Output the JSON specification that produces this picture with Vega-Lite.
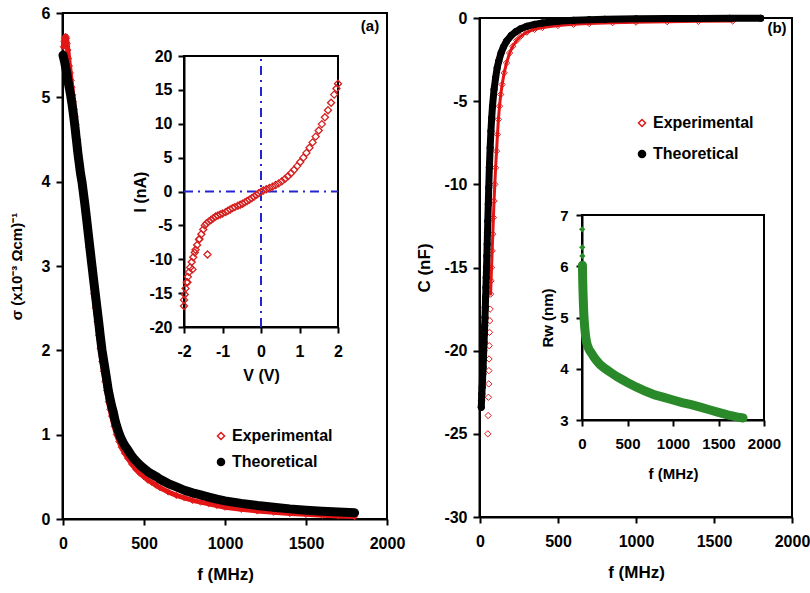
{
"$schema":"https://vega.github.io/schema/vega-lite/v6.json",
"width":810,"height":593,"autosize":{"type":"none"},"padding":0,
"background":"white",
"config":{"view":{"stroke":null},"font":"Liberation Sans",
 "axis":{"grid":false,"labelFont":"Liberation Sans","labelFontWeight":"bold","labelColor":"black","labelFontSize":16,"domainColor":"black","domainWidth":2,"tickColor":"black","tickWidth":2,"tickSize":6,"titleFont":"Liberation Sans","titleFontWeight":"bold","titleColor":"black","titleFontSize":16,"labelFlush":false,"labelOverlap":false,"labelBound":false,"labelExpr":"datum.value + ''"}},
"datasets":{
 "sigma":[
  {"f":2,"s":5.6,"series":"Experimental"},{"f":6,"s":5.66,"series":"Experimental"},{"f":10,"s":5.7,"series":"Experimental"},{"f":14,"s":5.72,"series":"Experimental"},{"f":18,"s":5.72,"series":"Experimental"},{"f":22,"s":5.7,"series":"Experimental"},{"f":26,"s":5.64,"series":"Experimental"},{"f":30,"s":5.56,"series":"Experimental"},{"f":35,"s":5.46,"series":"Experimental"},{"f":40,"s":5.37,"series":"Experimental"},{"f":45,"s":5.29,"series":"Experimental"},{"f":50,"s":5.2,"series":"Experimental"},{"f":55,"s":5.12,"series":"Experimental"},{"f":60,"s":5.03,"series":"Experimental"},{"f":65,"s":4.95,"series":"Experimental"},{"f":70,"s":4.86,"series":"Experimental"},{"f":75,"s":4.77,"series":"Experimental"},{"f":80,"s":4.68,"series":"Experimental"},{"f":85,"s":4.59,"series":"Experimental"},{"f":90,"s":4.5,"series":"Experimental"},{"f":95,"s":4.4,"series":"Experimental"},{"f":100,"s":4.31,"series":"Experimental"},{"f":110,"s":4.15,"series":"Experimental"},{"f":120,"s":3.99,"series":"Experimental"},{"f":130,"s":3.82,"series":"Experimental"},{"f":140,"s":3.64,"series":"Experimental"},{"f":150,"s":3.45,"series":"Experimental"},{"f":160,"s":3.22,"series":"Experimental"},{"f":170,"s":3.05,"series":"Experimental"},{"f":180,"s":2.85,"series":"Experimental"},{"f":190,"s":2.67,"series":"Experimental"},{"f":200,"s":2.5,"series":"Experimental"},{"f":210,"s":2.34,"series":"Experimental"},{"f":220,"s":2.18,"series":"Experimental"},{"f":230,"s":2.02,"series":"Experimental"},{"f":240,"s":1.87,"series":"Experimental"},{"f":250,"s":1.75,"series":"Experimental"},{"f":260,"s":1.63,"series":"Experimental"},{"f":270,"s":1.52,"series":"Experimental"},{"f":280,"s":1.39,"series":"Experimental"},{"f":290,"s":1.3,"series":"Experimental"},{"f":300,"s":1.22,"series":"Experimental"},{"f":315,"s":1.1,"series":"Experimental"},{"f":330,"s":1.0,"series":"Experimental"},{"f":345,"s":0.92,"series":"Experimental"},{"f":360,"s":0.85,"series":"Experimental"},{"f":380,"s":0.78,"series":"Experimental"},{"f":400,"s":0.72,"series":"Experimental"},{"f":425,"s":0.65,"series":"Experimental"},{"f":450,"s":0.59,"series":"Experimental"},{"f":475,"s":0.54,"series":"Experimental"},{"f":500,"s":0.5,"series":"Experimental"},{"f":525,"s":0.46,"series":"Experimental"},{"f":550,"s":0.43,"series":"Experimental"},{"f":575,"s":0.4,"series":"Experimental"},{"f":600,"s":0.37,"series":"Experimental"},{"f":650,"s":0.32,"series":"Experimental"},{"f":700,"s":0.28,"series":"Experimental"},{"f":750,"s":0.25,"series":"Experimental"},{"f":800,"s":0.22,"series":"Experimental"},{"f":850,"s":0.2,"series":"Experimental"},{"f":900,"s":0.18,"series":"Experimental"},{"f":950,"s":0.16,"series":"Experimental"},{"f":1000,"s":0.14,"series":"Experimental"},{"f":1100,"s":0.115,"series":"Experimental"},{"f":1200,"s":0.095,"series":"Experimental"},{"f":1300,"s":0.08,"series":"Experimental"},{"f":1400,"s":0.065,"series":"Experimental"},{"f":1500,"s":0.055,"series":"Experimental"},{"f":1600,"s":0.045,"series":"Experimental"},{"f":1700,"s":0.037,"series":"Experimental"},{"f":1800,"s":0.03,"series":"Experimental"},
  {"f":0,"s":5.5,"series":"Theoretical"},{"f":5,"s":5.46,"series":"Theoretical"},{"f":10,"s":5.42,"series":"Theoretical"},{"f":15,"s":5.37,"series":"Theoretical"},{"f":20,"s":5.32,"series":"Theoretical"},{"f":25,"s":5.27,"series":"Theoretical"},{"f":30,"s":5.21,"series":"Theoretical"},{"f":35,"s":5.15,"series":"Theoretical"},{"f":40,"s":5.1,"series":"Theoretical"},{"f":45,"s":5.05,"series":"Theoretical"},{"f":50,"s":4.99,"series":"Theoretical"},{"f":55,"s":4.93,"series":"Theoretical"},{"f":60,"s":4.86,"series":"Theoretical"},{"f":65,"s":4.79,"series":"Theoretical"},{"f":70,"s":4.71,"series":"Theoretical"},{"f":75,"s":4.63,"series":"Theoretical"},{"f":80,"s":4.54,"series":"Theoretical"},{"f":85,"s":4.46,"series":"Theoretical"},{"f":90,"s":4.37,"series":"Theoretical"},{"f":95,"s":4.29,"series":"Theoretical"},{"f":100,"s":4.22,"series":"Theoretical"},{"f":108,"s":4.1,"series":"Theoretical"},{"f":117,"s":4.0,"series":"Theoretical"},{"f":125,"s":3.88,"series":"Theoretical"},{"f":135,"s":3.73,"series":"Theoretical"},{"f":145,"s":3.57,"series":"Theoretical"},{"f":155,"s":3.4,"series":"Theoretical"},{"f":165,"s":3.23,"series":"Theoretical"},{"f":179,"s":3.0,"series":"Theoretical"},{"f":190,"s":2.82,"series":"Theoretical"},{"f":200,"s":2.66,"series":"Theoretical"},{"f":210,"s":2.5,"series":"Theoretical"},{"f":220,"s":2.34,"series":"Theoretical"},{"f":230,"s":2.17,"series":"Theoretical"},{"f":241,"s":2.0,"series":"Theoretical"},{"f":250,"s":1.89,"series":"Theoretical"},{"f":260,"s":1.77,"series":"Theoretical"},{"f":270,"s":1.65,"series":"Theoretical"},{"f":280,"s":1.52,"series":"Theoretical"},{"f":290,"s":1.43,"series":"Theoretical"},{"f":300,"s":1.34,"series":"Theoretical"},{"f":310,"s":1.27,"series":"Theoretical"},{"f":320,"s":1.18,"series":"Theoretical"},{"f":330,"s":1.11,"series":"Theoretical"},{"f":340,"s":1.05,"series":"Theoretical"},{"f":355,"s":0.97,"series":"Theoretical"},{"f":370,"s":0.91,"series":"Theoretical"},{"f":385,"s":0.86,"series":"Theoretical"},{"f":400,"s":0.82,"series":"Theoretical"},{"f":420,"s":0.76,"series":"Theoretical"},{"f":440,"s":0.71,"series":"Theoretical"},{"f":460,"s":0.67,"series":"Theoretical"},{"f":480,"s":0.63,"series":"Theoretical"},{"f":500,"s":0.6,"series":"Theoretical"},{"f":525,"s":0.56,"series":"Theoretical"},{"f":550,"s":0.53,"series":"Theoretical"},{"f":578,"s":0.5,"series":"Theoretical"},{"f":600,"s":0.47,"series":"Theoretical"},{"f":650,"s":0.42,"series":"Theoretical"},{"f":700,"s":0.38,"series":"Theoretical"},{"f":750,"s":0.34,"series":"Theoretical"},{"f":800,"s":0.31,"series":"Theoretical"},{"f":850,"s":0.285,"series":"Theoretical"},{"f":900,"s":0.26,"series":"Theoretical"},{"f":950,"s":0.235,"series":"Theoretical"},{"f":1000,"s":0.215,"series":"Theoretical"},{"f":1100,"s":0.185,"series":"Theoretical"},{"f":1200,"s":0.16,"series":"Theoretical"},{"f":1300,"s":0.14,"series":"Theoretical"},{"f":1400,"s":0.12,"series":"Theoretical"},{"f":1500,"s":0.105,"series":"Theoretical"},{"f":1600,"s":0.092,"series":"Theoretical"},{"f":1700,"s":0.082,"series":"Theoretical"},{"f":1800,"s":0.074,"series":"Theoretical"}
 ],
 "iv":[
  {"V":-2.0,"I":-16.9},{"V":-2.0,"I":-16.0},{"V":-1.98,"I":-15.2},{"V":-1.96,"I":-14.3},{"V":-1.93,"I":-13.4},{"V":-1.91,"I":-13.4},{"V":-1.9,"I":-12.6},{"V":-1.87,"I":-11.9},{"V":-1.84,"I":-11.2},{"V":-1.78,"I":-11.5},{"V":-1.8,"I":-10.4},{"V":-1.76,"I":-9.7},{"V":-1.72,"I":-9.0},{"V":-1.7,"I":-8.6},{"V":-1.66,"I":-7.9},{"V":-1.61,"I":-7.1},{"V":-1.6,"I":-7.0},{"V":-1.55,"I":-6.3},{"V":-1.5,"I":-5.6},{"V":-1.39,"I":-9.3},{"V":-1.46,"I":-5.0},{"V":-1.42,"I":-4.7},{"V":-1.36,"I":-4.45},{"V":-1.3,"I":-4.2},{"V":-1.24,"I":-3.95},{"V":-1.18,"I":-3.7},{"V":-1.12,"I":-3.55},{"V":-1.06,"I":-3.4},{"V":-1.0,"I":-3.25},{"V":-0.92,"I":-3.05},{"V":-0.86,"I":-2.85},{"V":-0.8,"I":-2.65},{"V":-0.74,"I":-2.45},{"V":-0.68,"I":-2.3},{"V":-0.6,"I":-2.1},{"V":-0.54,"I":-1.95},{"V":-0.48,"I":-1.8},{"V":-0.42,"I":-1.6},{"V":-0.36,"I":-1.4},{"V":-0.3,"I":-1.2},{"V":-0.24,"I":-0.98},{"V":-0.18,"I":-0.75},{"V":-0.12,"I":-0.5},{"V":-0.06,"I":-0.25},{"V":0.0,"I":-0.05},{"V":0.06,"I":0.15},{"V":0.14,"I":0.33},{"V":0.22,"I":0.52},{"V":0.3,"I":0.72},{"V":0.38,"I":0.95},{"V":0.46,"I":1.2},{"V":0.54,"I":1.5},{"V":0.62,"I":1.85},{"V":0.7,"I":2.25},{"V":0.78,"I":2.7},{"V":0.86,"I":3.2},{"V":0.94,"I":3.75},{"V":1.02,"I":4.35},{"V":1.1,"I":5.0},{"V":1.18,"I":5.7},{"V":1.26,"I":6.45},{"V":1.34,"I":7.25},{"V":1.42,"I":8.1},{"V":1.5,"I":9.0},{"V":1.58,"I":9.95},{"V":1.66,"I":10.95},{"V":1.74,"I":12.0},{"V":1.82,"I":13.1},{"V":1.9,"I":14.3},{"V":1.96,"I":15.2},{"V":2.0,"I":15.9}
 ],
 "cap":[
  {"f":50,"C":-25.0,"series":"Experimental"},{"f":52,"C":-23.9,"series":"Experimental"},{"f":54,"C":-22.8,"series":"Experimental"},{"f":56,"C":-22.0,"series":"Experimental"},{"f":57,"C":-21.2,"series":"Experimental"},{"f":58,"C":-20.5,"series":"Experimental"},{"f":59,"C":-19.7,"series":"Experimental"},{"f":61,"C":-18.9,"series":"Experimental"},{"f":63,"C":-18.2,"series":"Experimental"},{"f":65,"C":-17.5,"series":"Experimental"},{"f":68,"C":-16.6,"series":"Experimental"},{"f":71,"C":-15.8,"series":"Experimental"},{"f":74,"C":-15.0,"series":"Experimental"},{"f":78,"C":-14.0,"series":"Experimental"},{"f":82,"C":-13.0,"series":"Experimental"},{"f":86,"C":-12.0,"series":"Experimental"},{"f":90,"C":-11.0,"series":"Experimental"},{"f":95,"C":-10.0,"series":"Experimental"},{"f":100,"C":-9.0,"series":"Experimental"},{"f":106,"C":-8.0,"series":"Experimental"},{"f":112,"C":-7.0,"series":"Experimental"},{"f":118,"C":-6.1,"series":"Experimental"},{"f":125,"C":-5.3,"series":"Experimental"},{"f":133,"C":-4.6,"series":"Experimental"},{"f":142,"C":-4.0,"series":"Experimental"},{"f":155,"C":-3.3,"series":"Experimental"},{"f":170,"C":-2.7,"series":"Experimental"},{"f":190,"C":-2.1,"series":"Experimental"},{"f":210,"C":-1.7,"series":"Experimental"},{"f":235,"C":-1.35,"series":"Experimental"},{"f":260,"C":-1.1,"series":"Experimental"},{"f":300,"C":-0.85,"series":"Experimental"},{"f":350,"C":-0.68,"series":"Experimental"},{"f":400,"C":-0.57,"series":"Experimental"},{"f":500,"C":-0.45,"series":"Experimental"},{"f":600,"C":-0.38,"series":"Experimental"},{"f":700,"C":-0.33,"series":"Experimental"},{"f":850,"C":-0.28,"series":"Experimental"},{"f":1000,"C":-0.25,"series":"Experimental"},{"f":1200,"C":-0.22,"series":"Experimental"},{"f":1400,"C":-0.2,"series":"Experimental"},{"f":1620,"C":-0.18,"series":"Experimental"},
  {"f":8,"C":-23.4,"series":"Theoretical"},{"f":10,"C":-23.0,"series":"Theoretical"},{"f":12,"C":-22.6,"series":"Theoretical"},{"f":14,"C":-22.2,"series":"Theoretical"},{"f":16,"C":-21.8,"series":"Theoretical"},{"f":18,"C":-21.4,"series":"Theoretical"},{"f":20,"C":-21.0,"series":"Theoretical"},{"f":22,"C":-20.5,"series":"Theoretical"},{"f":24,"C":-20.0,"series":"Theoretical"},{"f":26,"C":-19.5,"series":"Theoretical"},{"f":28,"C":-19.0,"series":"Theoretical"},{"f":30,"C":-18.5,"series":"Theoretical"},{"f":32,"C":-18.0,"series":"Theoretical"},{"f":34,"C":-17.4,"series":"Theoretical"},{"f":36,"C":-16.8,"series":"Theoretical"},{"f":38,"C":-16.2,"series":"Theoretical"},{"f":40,"C":-15.6,"series":"Theoretical"},{"f":42,"C":-15.0,"series":"Theoretical"},{"f":44,"C":-14.3,"series":"Theoretical"},{"f":46,"C":-13.6,"series":"Theoretical"},{"f":48,"C":-12.9,"series":"Theoretical"},{"f":50,"C":-12.2,"series":"Theoretical"},{"f":53,"C":-11.2,"series":"Theoretical"},{"f":56,"C":-10.2,"series":"Theoretical"},{"f":60,"C":-9.0,"series":"Theoretical"},{"f":65,"C":-7.8,"series":"Theoretical"},{"f":70,"C":-6.8,"series":"Theoretical"},{"f":75,"C":-6.0,"series":"Theoretical"},{"f":80,"C":-5.3,"series":"Theoretical"},{"f":90,"C":-4.3,"series":"Theoretical"},{"f":100,"C":-3.6,"series":"Theoretical"},{"f":110,"C":-3.0,"series":"Theoretical"},{"f":120,"C":-2.6,"series":"Theoretical"},{"f":135,"C":-2.1,"series":"Theoretical"},{"f":150,"C":-1.75,"series":"Theoretical"},{"f":170,"C":-1.4,"series":"Theoretical"},{"f":200,"C":-1.05,"series":"Theoretical"},{"f":230,"C":-0.82,"series":"Theoretical"},{"f":260,"C":-0.65,"series":"Theoretical"},{"f":300,"C":-0.5,"series":"Theoretical"},{"f":350,"C":-0.38,"series":"Theoretical"},{"f":400,"C":-0.3,"series":"Theoretical"},{"f":500,"C":-0.2,"series":"Theoretical"},{"f":600,"C":-0.14,"series":"Theoretical"},{"f":700,"C":-0.1,"series":"Theoretical"},{"f":800,"C":-0.08,"series":"Theoretical"},{"f":1000,"C":-0.05,"series":"Theoretical"},{"f":1200,"C":-0.035,"series":"Theoretical"},{"f":1400,"C":-0.025,"series":"Theoretical"},{"f":1600,"C":-0.02,"series":"Theoretical"},{"f":1800,"C":-0.015,"series":"Theoretical"}
 ],
 "rw":[
  {"f":2,"R":6.72},{"f":3,"R":6.37},{"f":4,"R":6.2},{"f":5,"R":6.02},{"f":6,"R":5.9},{"f":7,"R":5.8},{"f":8,"R":5.72},{"f":10,"R":5.58},{"f":12,"R":5.45},{"f":14,"R":5.34},{"f":16,"R":5.24},{"f":18,"R":5.15},{"f":20,"R":5.07},{"f":25,"R":4.92},{"f":30,"R":4.8},{"f":35,"R":4.71},{"f":40,"R":4.63},{"f":50,"R":4.52},{"f":60,"R":4.45},{"f":75,"R":4.39},{"f":90,"R":4.34},{"f":110,"R":4.29},{"f":130,"R":4.23},{"f":160,"R":4.16},{"f":200,"R":4.08},{"f":240,"R":4.02},{"f":280,"R":3.97},{"f":330,"R":3.91},{"f":380,"R":3.85},{"f":450,"R":3.78},{"f":520,"R":3.71},{"f":600,"R":3.64},{"f":700,"R":3.56},{"f":800,"R":3.49},{"f":900,"R":3.44},{"f":1000,"R":3.39},{"f":1100,"R":3.34},{"f":1200,"R":3.3},{"f":1300,"R":3.25},{"f":1400,"R":3.2},{"f":1500,"R":3.15},{"f":1600,"R":3.1},{"f":1700,"R":3.06},{"f":1770,"R":3.04}
 ]
},
"resolve":{"scale":{"x":"independent","y":"independent","fill":"independent","stroke":"independent","shape":"independent"},"axis":{"x":"independent","y":"independent"},"legend":{"fill":"independent","stroke":"independent","shape":"independent"}},
"layer":[
 {"data":{"name":"sigma"},
  "layer":[
   {"data":{"values":[{}]},"mark":{"type":"rect","filled":false,"stroke":"black","strokeWidth":2},
    "encoding":{
     "x":{"datum":0,"type":"quantitative","scale":{"domain":[0,2000],"range":[63,387],"nice":false,"zero":false},"axis":{"orient":"bottom","offset":-74,"values":[0,500,1000,1500,2000],"title":"f (MHz)","titleFontSize":17,"labelPadding":10,"titlePadding":15}},
     "x2":{"datum":2000},
     "y":{"datum":0,"type":"quantitative","scale":{"domain":[0,6],"range":[519,13],"nice":false,"zero":false},"axis":{"orient":"left","offset":-62,"values":[0,1,2,3,4,5,6],"title":"σ (x10⁻³ Ωcm)⁻¹","titleFontSize":15,"labelPadding":6,"titlePadding":17}},
     "y2":{"datum":6}}},
   {"transform":[{"filter":"datum.series == 'Experimental'"}],"mark":{"type":"line","color":"#e51515","strokeWidth":5,"strokeCap":"round"},
    "encoding":{"x":{"field":"f","type":"quantitative","scale":{"domain":[0,2000],"range":[63,387],"nice":false,"zero":false}},"y":{"field":"s","type":"quantitative","scale":{"domain":[0,6],"range":[519,13],"nice":false,"zero":false}}}},
   {"transform":[{"filter":"datum.series == 'Experimental'"}],"mark":{"type":"point","filled":true,"size":40,"strokeWidth":1,"opacity":1},
    "encoding":{"x":{"field":"f","type":"quantitative","scale":{"domain":[0,2000],"range":[63,387],"nice":false,"zero":false}},"y":{"field":"s","type":"quantitative","scale":{"domain":[0,6],"range":[519,13],"nice":false,"zero":false}},
     "fill":{"field":"series","type":"nominal","scale":{"domain":["Experimental","Theoretical"],"range":["transparent","black"]},"legend":{"orient":"none","legendX":213,"legendY":428,"title":null,"padding":0,"labelFont":"Liberation Sans","labelFontSize":16,"labelFontWeight":"bold","labelColor":"black","symbolSize":50,"rowPadding":10,"labelOffset":3,"symbolOpacity":1}},
     "stroke":{"field":"series","type":"nominal","scale":{"domain":["Experimental","Theoretical"],"range":["#e01818","black"]},"legend":{"orient":"none","legendX":213,"legendY":428,"title":null,"padding":0,"labelFont":"Liberation Sans","labelFontSize":16,"labelFontWeight":"bold","labelColor":"black","symbolSize":50,"rowPadding":10,"labelOffset":3,"symbolOpacity":1}},
     "shape":{"field":"series","type":"nominal","scale":{"domain":["Experimental","Theoretical"],"range":["diamond","circle"]},"legend":{"orient":"none","legendX":213,"legendY":428,"title":null,"padding":0,"labelFont":"Liberation Sans","labelFontSize":16,"labelFontWeight":"bold","labelColor":"black","symbolSize":50,"rowPadding":10,"labelOffset":3,"symbolOpacity":1}}}},
   {"transform":[{"filter":"datum.series == 'Theoretical'"}],"mark":{"type":"line","color":"black","strokeWidth":9,"strokeCap":"round"},
    "encoding":{"x":{"field":"f","type":"quantitative","scale":{"domain":[0,2000],"range":[63,387],"nice":false,"zero":false}},"y":{"field":"s","type":"quantitative","scale":{"domain":[0,6],"range":[519,13],"nice":false,"zero":false}}}},
   {"transform":[{"filter":"datum.series == 'Theoretical'"}],"mark":{"type":"point","filled":true,"size":45,"strokeWidth":1,"opacity":1},
    "encoding":{"x":{"field":"f","type":"quantitative","scale":{"domain":[0,2000],"range":[63,387],"nice":false,"zero":false}},"y":{"field":"s","type":"quantitative","scale":{"domain":[0,6],"range":[519,13],"nice":false,"zero":false}},
     "fill":{"field":"series","type":"nominal","scale":{"domain":["Experimental","Theoretical"],"range":["transparent","black"]},"legend":{"orient":"none","legendX":213,"legendY":428,"title":null,"padding":0,"labelFont":"Liberation Sans","labelFontSize":16,"labelFontWeight":"bold","labelColor":"black","symbolSize":50,"rowPadding":10,"labelOffset":3,"symbolOpacity":1}},
     "stroke":{"field":"series","type":"nominal","scale":{"domain":["Experimental","Theoretical"],"range":["#e01818","black"]},"legend":{"orient":"none","legendX":213,"legendY":428,"title":null,"padding":0,"labelFont":"Liberation Sans","labelFontSize":16,"labelFontWeight":"bold","labelColor":"black","symbolSize":50,"rowPadding":10,"labelOffset":3,"symbolOpacity":1}},
     "shape":{"field":"series","type":"nominal","scale":{"domain":["Experimental","Theoretical"],"range":["diamond","circle"]},"legend":{"orient":"none","legendX":213,"legendY":428,"title":null,"padding":0,"labelFont":"Liberation Sans","labelFontSize":16,"labelFontWeight":"bold","labelColor":"black","symbolSize":50,"rowPadding":10,"labelOffset":3,"symbolOpacity":1}}}},
   {"data":{"values":[{}]},"mark":{"type":"text","text":"(a)","font":"Liberation Sans","fontWeight":"bold","fontSize":15,"align":"center","baseline":"middle","color":"black"},
    "encoding":{"x":{"datum":1895,"type":"quantitative","scale":{"domain":[0,2000],"range":[63,387],"nice":false,"zero":false}},"y":{"datum":5.85,"type":"quantitative","scale":{"domain":[0,6],"range":[519,13],"nice":false,"zero":false}}}}
  ]},
 {"data":{"name":"iv"},
  "layer":[
   {"data":{"values":[{}]},"mark":{"type":"rect","filled":false,"stroke":"black","strokeWidth":2},
    "encoding":{
     "x":{"datum":-2,"type":"quantitative","scale":{"domain":[-2,2],"range":[184,338],"nice":false,"zero":false},"axis":{"orient":"bottom","offset":-266,"values":[-2,-1,0,1,2],"title":"V (V)","labelPadding":10,"titlePadding":8}},
     "x2":{"datum":2},
     "y":{"datum":-20,"type":"quantitative","scale":{"domain":[-20,20],"range":[327,56],"nice":false,"zero":false},"axis":{"orient":"left","offset":-184,"values":[-20,-15,-10,-5,0,5,10,15,20],"title":"I (nA)","labelPadding":6,"titlePadding":0}},
     "y2":{"datum":20}}},
   {"data":{"values":[{}]},"mark":{"type":"rule","color":"#2424d4","strokeWidth":2,"strokeDash":[9,5,2,5]},
    "encoding":{"x":{"datum":0,"type":"quantitative","scale":{"domain":[-2,2],"range":[184,338],"nice":false,"zero":false}},"y":{"datum":-20,"type":"quantitative","scale":{"domain":[-20,20],"range":[327,56],"nice":false,"zero":false}},"y2":{"datum":20}}},
   {"data":{"values":[{}]},"mark":{"type":"rule","color":"#2424d4","strokeWidth":2,"strokeDash":[9,5,2,5]},
    "encoding":{"x":{"datum":-2,"type":"quantitative","scale":{"domain":[-2,2],"range":[184,338],"nice":false,"zero":false}},"x2":{"datum":2},"y":{"datum":0,"type":"quantitative","scale":{"domain":[-20,20],"range":[327,56],"nice":false,"zero":false}}}},
   {"mark":{"type":"point","shape":"diamond","filled":false,"size":50,"strokeWidth":1.3,"color":"#d42020","opacity":1},
    "encoding":{"x":{"field":"V","type":"quantitative","scale":{"domain":[-2,2],"range":[184,338],"nice":false,"zero":false}},"y":{"field":"I","type":"quantitative","scale":{"domain":[-20,20],"range":[327,56],"nice":false,"zero":false}}}}
  ]},
 {"data":{"name":"cap"},
  "layer":[
   {"data":{"values":[{}]},"mark":{"type":"rect","filled":false,"stroke":"black","strokeWidth":2},
    "encoding":{
     "x":{"datum":0,"type":"quantitative","scale":{"domain":[0,2000],"range":[480,792],"nice":false,"zero":false},"axis":{"orient":"bottom","offset":-76,"values":[0,500,1000,1500,2000],"title":"f (MHz)","titleFontSize":17,"labelPadding":10,"titlePadding":15}},
     "x2":{"datum":2000},
     "y":{"datum":-30,"type":"quantitative","scale":{"domain":[-30,0],"range":[517,18],"nice":false,"zero":false},"axis":{"orient":"left","offset":-479,"values":[-30,-25,-20,-15,-10,-5,0],"title":"C (nF)","titleFontSize":17,"labelPadding":6,"titlePadding":10}},
     "y2":{"datum":0}}},
   {"transform":[{"filter":"datum.series == 'Experimental' && datum.C > -17"}],"mark":{"type":"line","color":"#e51515","strokeWidth":3,"strokeCap":"round"},
    "encoding":{"x":{"field":"f","type":"quantitative","scale":{"domain":[0,2000],"range":[480,792],"nice":false,"zero":false}},"y":{"field":"C","type":"quantitative","scale":{"domain":[-30,0],"range":[517,18],"nice":false,"zero":false}}}},
   {"transform":[{"filter":"datum.series == 'Experimental'"}],"mark":{"type":"point","filled":true,"size":40,"strokeWidth":1,"opacity":1},
    "encoding":{"x":{"field":"f","type":"quantitative","scale":{"domain":[0,2000],"range":[480,792],"nice":false,"zero":false}},"y":{"field":"C","type":"quantitative","scale":{"domain":[-30,0],"range":[517,18],"nice":false,"zero":false}},
     "fill":{"field":"series","type":"nominal","scale":{"domain":["Experimental","Theoretical"],"range":["transparent","black"]},"legend":{"orient":"none","legendX":634,"legendY":115,"title":null,"padding":0,"labelFont":"Liberation Sans","labelFontSize":16,"labelFontWeight":"bold","labelColor":"black","symbolSize":50,"rowPadding":15,"labelOffset":3,"symbolOpacity":1}},
     "stroke":{"field":"series","type":"nominal","scale":{"domain":["Experimental","Theoretical"],"range":["#e01818","black"]},"legend":{"orient":"none","legendX":634,"legendY":115,"title":null,"padding":0,"labelFont":"Liberation Sans","labelFontSize":16,"labelFontWeight":"bold","labelColor":"black","symbolSize":50,"rowPadding":15,"labelOffset":3,"symbolOpacity":1}},
     "shape":{"field":"series","type":"nominal","scale":{"domain":["Experimental","Theoretical"],"range":["diamond","circle"]},"legend":{"orient":"none","legendX":634,"legendY":115,"title":null,"padding":0,"labelFont":"Liberation Sans","labelFontSize":16,"labelFontWeight":"bold","labelColor":"black","symbolSize":50,"rowPadding":15,"labelOffset":3,"symbolOpacity":1}}}},
   {"transform":[{"filter":"datum.series == 'Theoretical'"}],"mark":{"type":"line","color":"black","strokeWidth":7,"strokeCap":"round"},
    "encoding":{"x":{"field":"f","type":"quantitative","scale":{"domain":[0,2000],"range":[480,792],"nice":false,"zero":false}},"y":{"field":"C","type":"quantitative","scale":{"domain":[-30,0],"range":[517,18],"nice":false,"zero":false}}}},
   {"transform":[{"filter":"datum.series == 'Theoretical'"}],"mark":{"type":"point","filled":true,"size":40,"strokeWidth":1,"opacity":1},
    "encoding":{"x":{"field":"f","type":"quantitative","scale":{"domain":[0,2000],"range":[480,792],"nice":false,"zero":false}},"y":{"field":"C","type":"quantitative","scale":{"domain":[-30,0],"range":[517,18],"nice":false,"zero":false}},
     "fill":{"field":"series","type":"nominal","scale":{"domain":["Experimental","Theoretical"],"range":["transparent","black"]},"legend":{"orient":"none","legendX":634,"legendY":115,"title":null,"padding":0,"labelFont":"Liberation Sans","labelFontSize":16,"labelFontWeight":"bold","labelColor":"black","symbolSize":50,"rowPadding":15,"labelOffset":3,"symbolOpacity":1}},
     "stroke":{"field":"series","type":"nominal","scale":{"domain":["Experimental","Theoretical"],"range":["#e01818","black"]},"legend":{"orient":"none","legendX":634,"legendY":115,"title":null,"padding":0,"labelFont":"Liberation Sans","labelFontSize":16,"labelFontWeight":"bold","labelColor":"black","symbolSize":50,"rowPadding":15,"labelOffset":3,"symbolOpacity":1}},
     "shape":{"field":"series","type":"nominal","scale":{"domain":["Experimental","Theoretical"],"range":["diamond","circle"]},"legend":{"orient":"none","legendX":634,"legendY":115,"title":null,"padding":0,"labelFont":"Liberation Sans","labelFontSize":16,"labelFontWeight":"bold","labelColor":"black","symbolSize":50,"rowPadding":15,"labelOffset":3,"symbolOpacity":1}}}},
   {"data":{"values":[{}]},"mark":{"type":"text","text":"(b)","font":"Liberation Sans","fontWeight":"bold","fontSize":15,"align":"center","baseline":"middle","color":"black"},
    "encoding":{"x":{"datum":1904,"type":"quantitative","scale":{"domain":[0,2000],"range":[480,792],"nice":false,"zero":false}},"y":{"datum":-0.6,"type":"quantitative","scale":{"domain":[-30,0],"range":[517,18],"nice":false,"zero":false}}}}
  ]},
 {"data":{"name":"rw"},
  "layer":[
   {"data":{"values":[{}]},"mark":{"type":"rect","filled":false,"stroke":"black","strokeWidth":2},
    "encoding":{
     "x":{"datum":0,"type":"quantitative","scale":{"domain":[0,2000],"range":[582,764],"nice":false,"zero":false},"axis":{"orient":"bottom","offset":-173,"values":[0,500,1000,1500,2000],"title":"f (MHz)","labelFontSize":15,"titleFontSize":15,"labelPadding":10,"titlePadding":15}},
     "x2":{"datum":2000},
     "y":{"datum":3,"type":"quantitative","scale":{"domain":[3,7],"range":[420,215],"nice":false,"zero":false},"axis":{"orient":"left","offset":-582,"values":[3,4,5,6,7],"title":"Rw (nm)","labelFontSize":15,"titleFontSize":15,"labelPadding":8,"titlePadding":4}},
     "y2":{"datum":7}}},
   {"transform":[{"filter":"datum.R < 6.1"}],"mark":{"type":"line","color":"#2a8a2a","strokeWidth":9,"strokeCap":"round"},
    "encoding":{"x":{"field":"f","type":"quantitative","scale":{"domain":[0,2000],"range":[582,764],"nice":false,"zero":false}},"y":{"field":"R","type":"quantitative","scale":{"domain":[3,7],"range":[420,215],"nice":false,"zero":false}}}},
   {"mark":{"type":"point","shape":"diamond","filled":true,"size":40,"color":"#2a8a2a","opacity":1},
    "encoding":{"x":{"field":"f","type":"quantitative","scale":{"domain":[0,2000],"range":[582,764],"nice":false,"zero":false}},"y":{"field":"R","type":"quantitative","scale":{"domain":[3,7],"range":[420,215],"nice":false,"zero":false}}}}
  ]}
]
}
